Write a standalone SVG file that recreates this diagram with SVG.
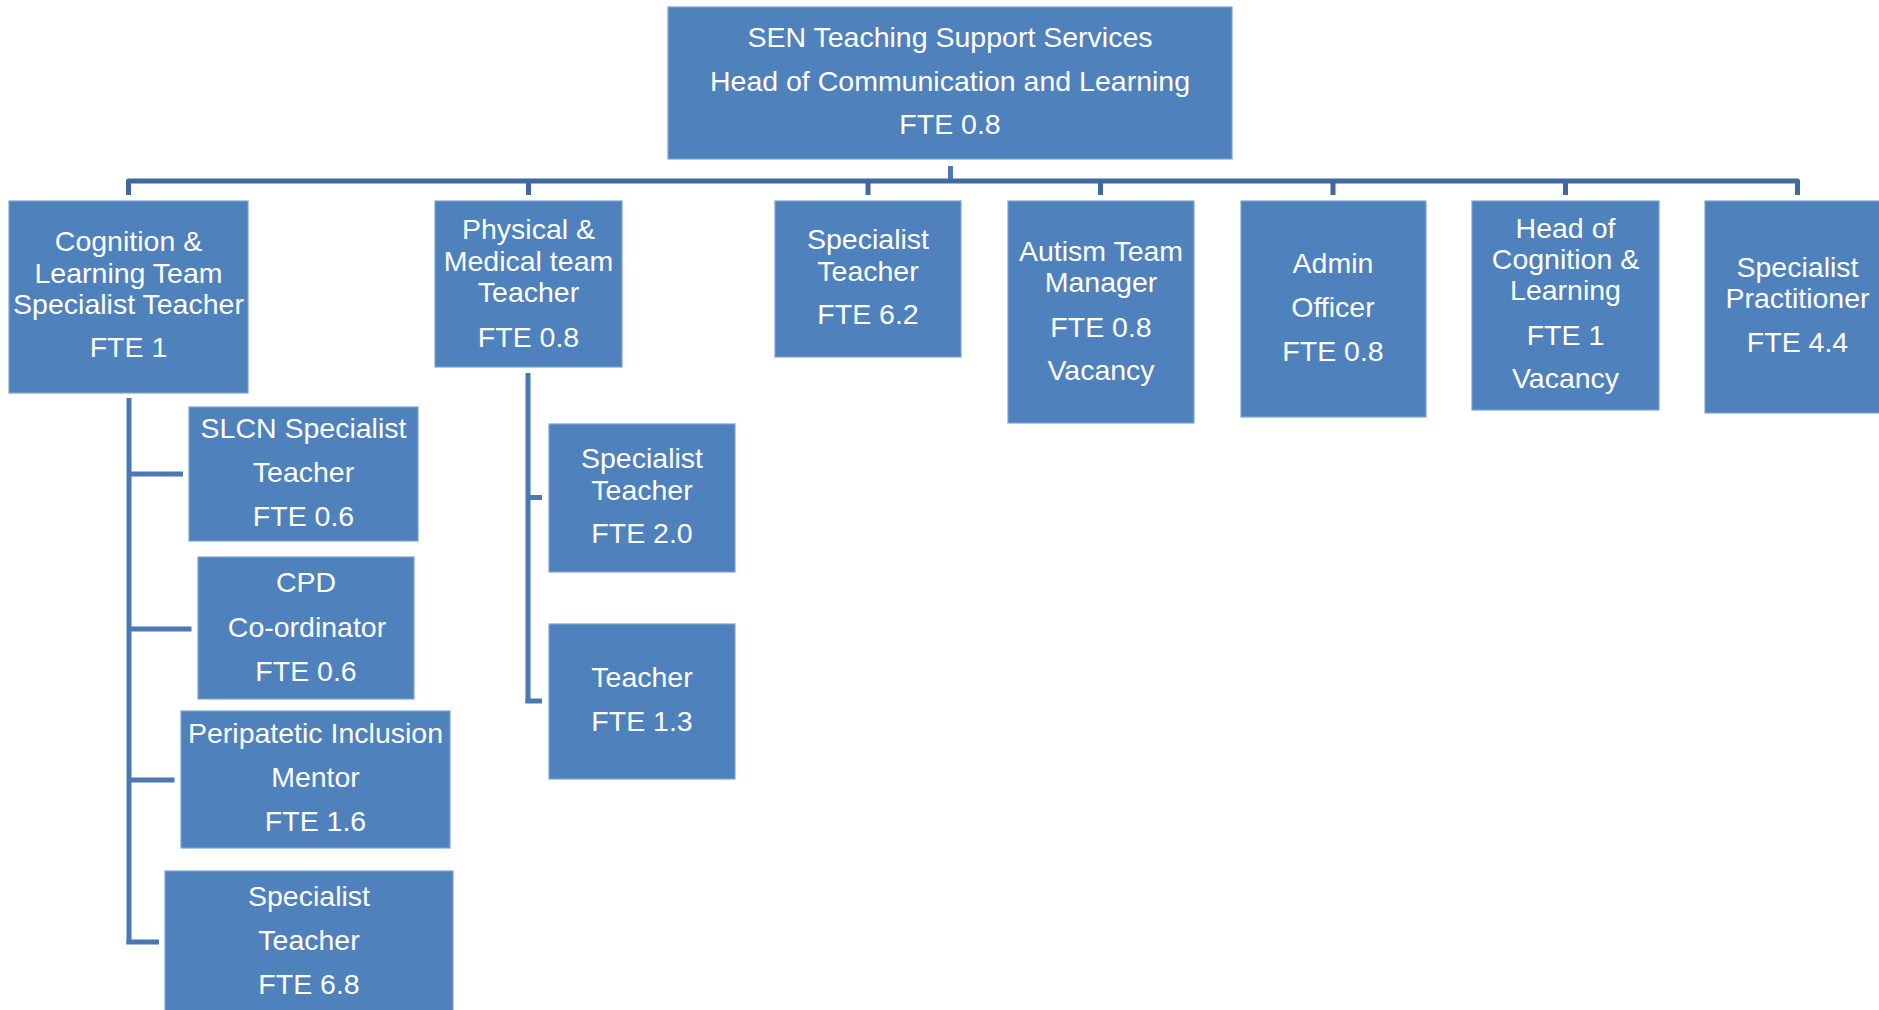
<svg xmlns="http://www.w3.org/2000/svg" width="1879" height="1010" viewBox="0 0 1879 1010">
<style>
  .box { fill: #4f81bd; stroke: #7ea3d3; stroke-width: 1.2; }
  .t { font-family: "Liberation Sans", Arial, sans-serif; font-size: 28.5px; fill: #ffffff; text-anchor: middle; }
  .bar { fill: none; stroke: #41699f; stroke-width: 5; stroke-linejoin: round; }
  .ln { fill: none; stroke: #4a78b2; stroke-width: 5; }
</style>
<rect width="1879" height="1010" fill="#ffffff"/>
<g id="connectors">
  <line class="ln" x1="950.5" y1="166" x2="950.5" y2="181"/>
  <path class="bar" d="M128.5,195 V181 H1797.5 V195"/>
  <line class="bar" x1="528.5" y1="181" x2="528.5" y2="195"/>
  <line class="bar" x1="868" y1="181" x2="868" y2="195"/>
  <line class="bar" x1="1100.5" y1="181" x2="1100.5" y2="195"/>
  <line class="bar" x1="1333" y1="181" x2="1333" y2="195"/>
  <line class="bar" x1="1565.5" y1="181" x2="1565.5" y2="195"/>
  <path class="ln" d="M129,398 V944"/>
  <line class="ln" x1="129" y1="474" x2="183" y2="474"/>
  <line class="ln" x1="129" y1="629" x2="191.5" y2="629"/>
  <line class="ln" x1="129" y1="780" x2="174.5" y2="780"/>
  <line class="ln" x1="126.5" y1="942" x2="159" y2="942"/>
  <path class="ln" d="M528,373 V703"/>
  <line class="ln" x1="528" y1="497.5" x2="542" y2="497.5"/>
  <line class="ln" x1="525.5" y1="701" x2="542" y2="701"/>
</g>
<g id="head">
  <rect class="box" x="668" y="7" width="564" height="152"/>
  <text class="t" x="950" y="47">SEN Teaching Support Services</text>
  <text class="t" x="950" y="91">Head of Communication and Learning</text>
  <text class="t" x="950" y="134">FTE 0.8</text>
</g>
<g id="cognition-team">
  <rect class="box" x="9" y="201" width="239" height="192"/>
  <text class="t" x="128.5" y="251">Cognition &amp;</text>
  <text class="t" x="128.5" y="283">Learning Team</text>
  <text class="t" x="128.5" y="314">Specialist Teacher</text>
  <text class="t" x="128.5" y="357">FTE 1</text>
</g>
<g id="physical-medical">
  <rect class="box" x="435" y="201" width="187" height="166"/>
  <text class="t" x="528.5" y="239">Physical &amp;</text>
  <text class="t" x="528.5" y="271">Medical team</text>
  <text class="t" x="528.5" y="302">Teacher</text>
  <text class="t" x="528.5" y="347">FTE 0.8</text>
</g>
<g id="specialist-teacher-62">
  <rect class="box" x="775" y="201" width="186" height="156"/>
  <text class="t" x="868" y="249">Specialist</text>
  <text class="t" x="868" y="281">Teacher</text>
  <text class="t" x="868" y="324">FTE 6.2</text>
</g>
<g id="autism">
  <rect class="box" x="1008" y="201" width="186" height="222"/>
  <text class="t" x="1101" y="261">Autism Team</text>
  <text class="t" x="1101" y="292">Manager</text>
  <text class="t" x="1101" y="337">FTE 0.8</text>
  <text class="t" x="1101" y="380">Vacancy</text>
</g>
<g id="admin">
  <rect class="box" x="1241" y="201" width="185" height="216"/>
  <text class="t" x="1333" y="273">Admin</text>
  <text class="t" x="1333" y="317">Officer</text>
  <text class="t" x="1333" y="361">FTE 0.8</text>
</g>
<g id="head-cognition">
  <rect class="box" x="1472" y="201" width="187" height="209"/>
  <text class="t" x="1565.5" y="238">Head of</text>
  <text class="t" x="1565.5" y="269">Cognition &amp;</text>
  <text class="t" x="1565.5" y="300">Learning</text>
  <text class="t" x="1565.5" y="345">FTE 1</text>
  <text class="t" x="1565.5" y="388">Vacancy</text>
</g>
<g id="specialist-practitioner">
  <rect class="box" x="1705" y="201" width="186" height="212"/>
  <text class="t" x="1797.5" y="277">Specialist</text>
  <text class="t" x="1797.5" y="308">Practitioner</text>
  <text class="t" x="1797.5" y="352">FTE 4.4</text>
</g>
<g id="slcn">
  <rect class="box" x="189" y="407" width="229" height="134"/>
  <text class="t" x="303.5" y="438">SLCN Specialist</text>
  <text class="t" x="303.5" y="482">Teacher</text>
  <text class="t" x="303.5" y="526">FTE 0.6</text>
</g>
<g id="cpd">
  <rect class="box" x="198" y="557" width="216" height="142"/>
  <text class="t" x="306" y="592">CPD</text>
  <text class="t" x="307" y="637">Co-ordinator</text>
  <text class="t" x="306" y="681">FTE 0.6</text>
</g>
<g id="peripatetic">
  <rect class="box" x="181" y="711" width="269" height="137"/>
  <text class="t" x="315.5" y="743">Peripatetic Inclusion</text>
  <text class="t" x="315.5" y="787">Mentor</text>
  <text class="t" x="315.5" y="831">FTE 1.6</text>
</g>
<g id="specialist-teacher-68">
  <rect class="box" x="165" y="871" width="288" height="150"/>
  <text class="t" x="309" y="906">Specialist</text>
  <text class="t" x="309" y="950">Teacher</text>
  <text class="t" x="309" y="994">FTE 6.8</text>
</g>
<g id="specialist-teacher-20">
  <rect class="box" x="549" y="424" width="186" height="148"/>
  <text class="t" x="642" y="468">Specialist</text>
  <text class="t" x="642" y="500">Teacher</text>
  <text class="t" x="642" y="543">FTE 2.0</text>
</g>
<g id="teacher-13">
  <rect class="box" x="549" y="624" width="186" height="155"/>
  <text class="t" x="642" y="687">Teacher</text>
  <text class="t" x="642" y="731">FTE 1.3</text>
</g>
</svg>
